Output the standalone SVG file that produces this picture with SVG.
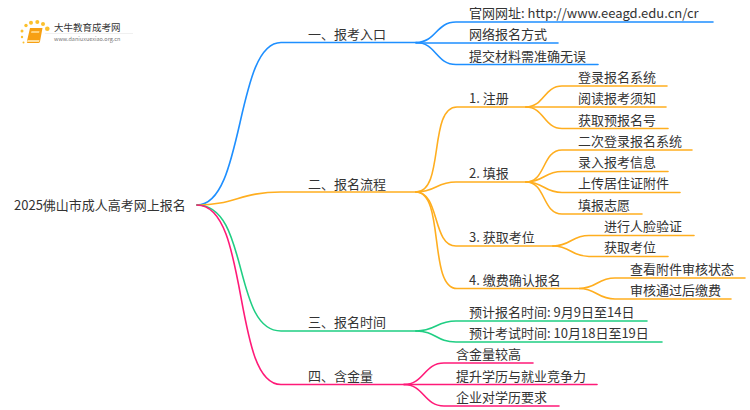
<svg xmlns="http://www.w3.org/2000/svg" width="750" height="410" viewBox="0 0 750 410">
<style>
text{font-family:"Noto Sans CJK SC","Noto Sans",sans-serif;font-size:13px;fill:#333}
#connectors path{fill:none;stroke-width:1.6;stroke-linecap:round}
.b{stroke:#1e8fff}.o{stroke:#ffae1f}.g{stroke:#1fce83}.p{stroke:#ff1a78}
</style>
<rect width="750" height="410" fill="#fff"/>
<g id="logo">
<g fill="#fbc02d"><circle cx="22" cy="37" r="1.200"/><circle cx="22" cy="31" r="1.500"/><circle cx="26" cy="25.500" r="1.700"/><circle cx="31" cy="22.800" r="2"/><circle cx="37.300" cy="22" r="2"/><circle cx="43" cy="24" r="2"/><circle cx="47.300" cy="28.800" r="2.300"/><circle cx="23.500" cy="42.500" r="1"/></g>
<path d="M30 28h12.500l-2.500 13.500q-.3 1.500-2 1.500h-10.500q-1-.5-.5-2z" fill="#f7a013"/><path d="M31.500 31h8l-.5 2h-8z" fill="#ffd27a"/><path d="M27.500 40h12l-.5 2h-12z" fill="#ffe0a0"/>
<text x="54" y="31" style="font-size:9.500px" fill="#444">大牛教育成考网</text>
<path d="M45 33.500h88" stroke="#e6e6e6" stroke-width=".6"/>
<text x="54" y="41" style="font-size:5.500px;fill:#777">www.daniuxuexiao.org.cn</text>
</g>
<g id="connectors">
<path class="b" d="M197 205C245 205 235 42.500 281 42.500H416"/>
<path class="o" d="M197 205C235 205 240 192 281 192H416"/>
<path class="g" d="M197 205C250 205 232 331 281 331H416"/>
<path class="p" d="M197 205C250 205 232 384.500 281 384.500H404"/>
<path class="b" d="M416 42.500C436 42.500 436 22 456 22H713"/>
<path class="b" d="M416 43H558"/>
<path class="b" d="M416 42.500C436 42.500 436 64.500 456 64.500H598"/>
<path class="o" d="M416 192C445 192 428 107 457 107H526"/>
<path class="o" d="M416 192C436 192 436 182 456 182H526"/>
<path class="o" d="M416 192C440 192 432 246 456 246H553"/>
<path class="o" d="M416 192C445 192 428 288.500 457 288.500H578"/>
<path class="o" d="M526 107C544 107 544 86 562 86H667"/>
<path class="o" d="M526 107H666"/>
<path class="o" d="M526 107C544 107 544 128.500 562 128.500H668"/>
<path class="o" d="M526 182C546 182 542 150 562 150H692"/>
<path class="o" d="M526 182C544 182 544 171.500 562 171.500H668"/>
<path class="o" d="M526 182C544 182 544 192.500 562 192.500H680"/>
<path class="o" d="M526 182C546 182 542 214 562 214H642"/>
<path class="o" d="M553 246C571 246 571 235.500 589 235.500H694"/>
<path class="o" d="M553 246C571 246 571 256.500 589 256.500H668"/>
<path class="o" d="M579 288.500C597 288.500 597 278 615 278H745"/>
<path class="o" d="M579 288.500C597 288.500 597 299 615 299H731"/>
<path class="g" d="M416 331C436 331 436 321 456 321H647"/>
<path class="g" d="M416 331C436 331 436 342 456 342H662"/>
<path class="p" d="M404 384.500C424 384.500 424 363 444 363H533"/>
<path class="p" d="M404 384.500H597"/>
<path class="p" d="M404 384.500C424 384.500 424 406 444 406H559"/>
</g>
<g id="root"><text x="14" y="210">2025佛山市成人高考网上报名</text></g>
<g id="n1"><text x="308" y="39">一、报考入口</text></g>
<g id="n1-1"><text x="469" y="18">官网网址: http://www.eeagd.edu.cn/cr</text></g>
<g id="n1-2"><text x="469" y="39">网络报名方式</text></g>
<g id="n1-3"><text x="469" y="61">提交材料需准确无误</text></g>
<g id="n2"><text x="308" y="189">二、报名流程</text></g>
<g id="n2-1"><text x="469" y="103">1. 注册</text></g>
<g id="n2-1-1"><text x="578" y="82">登录报名系统</text></g>
<g id="n2-1-2"><text x="578" y="103">阅读报考须知</text></g>
<g id="n2-1-3"><text x="578" y="125">获取预报名号</text></g>
<g id="n2-2"><text x="469" y="178">2. 填报</text></g>
<g id="n2-2-1"><text x="578" y="146">二次登录报名系统</text></g>
<g id="n2-2-2"><text x="578" y="167">录入报考信息</text></g>
<g id="n2-2-3"><text x="578" y="188">上传居住证附件</text></g>
<g id="n2-2-4"><text x="578" y="210">填报志愿</text></g>
<g id="n2-3"><text x="469" y="242">3. 获取考位</text></g>
<g id="n2-3-1"><text x="604" y="231">进行人脸验证</text></g>
<g id="n2-3-2"><text x="604" y="252">获取考位</text></g>
<g id="n2-4"><text x="469" y="285">4. 缴费确认报名</text></g>
<g id="n2-4-1"><text x="630" y="274">查看附件审核状态</text></g>
<g id="n2-4-2"><text x="630" y="295">审核通过后缴费</text></g>
<g id="n3"><text x="308" y="327">三、报名时间</text></g>
<g id="n3-1"><text x="469" y="317">预计报名时间: 9月9日至14日</text></g>
<g id="n3-2"><text x="469" y="338">预计考试时间: 10月18日至19日</text></g>
<g id="n4"><text x="308" y="381">四、含金量</text></g>
<g id="n4-1"><text x="456" y="359">含金量较高</text></g>
<g id="n4-2"><text x="456" y="381">提升学历与就业竞争力</text></g>
<g id="n4-3"><text x="456" y="402">企业对学历要求</text></g>
</svg>
